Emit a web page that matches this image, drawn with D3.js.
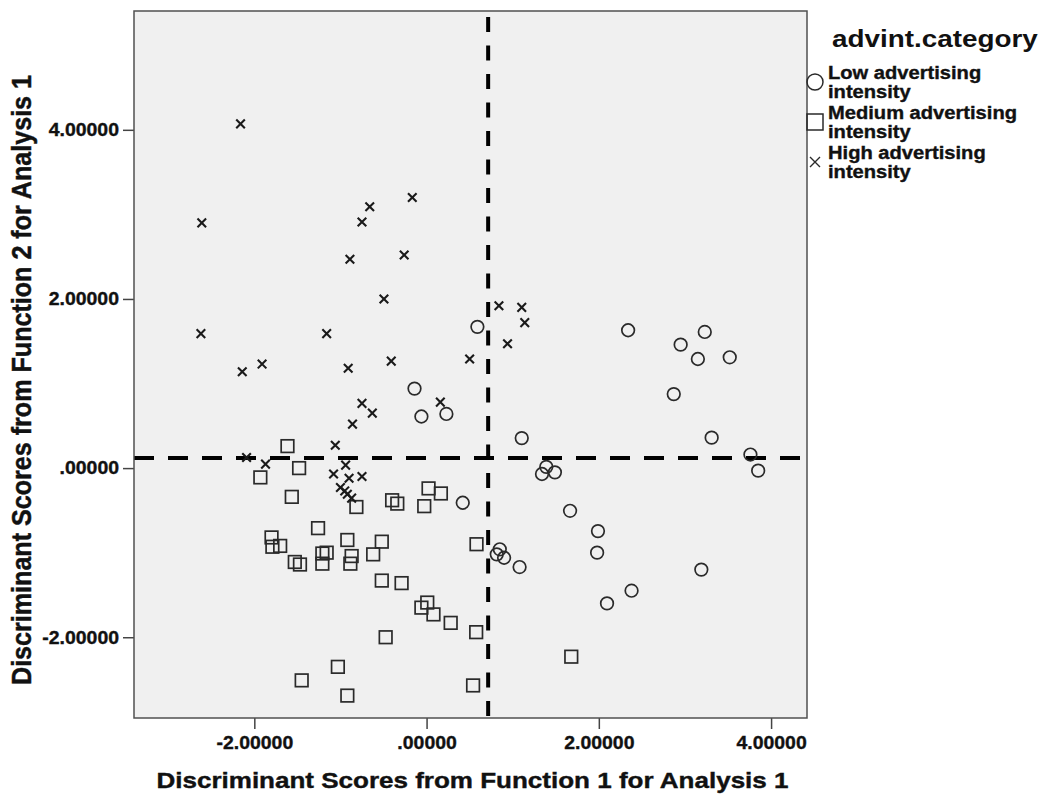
<!DOCTYPE html>
<html>
<head>
<meta charset="utf-8">
<script src="https://cdn.jsdelivr.net/npm/d3@7"></script>
<style>
body { margin: 0; background: #fff; }
svg { display: block; font-family: 'Liberation Sans', Arial, sans-serif; }
</style>
</head>
<body>
<svg></svg>
<script>
// advint.category groups, [function 1 score, function 2 score]
const categories = ['Low advertising intensity', 'Medium advertising intensity', 'High advertising intensity'];

const lowPoints = [
    [0.59, 1.67], [-0.14, 0.94], [-0.06, 0.61], [0.23, 0.64], [0.42, -0.41],
    [1.105, 0.355], [2.34, 1.63], [2.95, 1.46], [3.23, 1.61], [3.15, 1.29],
    [3.52, 1.31], [2.87, 0.875], [3.31, 0.36], [3.76, 0.16], [3.85, -0.03],
    [1.39, 0.015], [1.34, -0.07], [1.49, -0.05], [1.666, -0.505], [1.99, -0.745],
    [1.98, -1.00], [3.19, -1.20], [1.08, -1.17], [2.38, -1.45], [2.095, -1.60],
    [0.85, -0.96], [0.815, -1.02], [0.90, -1.06]
];

const mediumPoints = [
    [-1.615, 0.26], [-1.48, 0.00], [-1.93, -0.11], [-1.565, -0.34], [-0.815, -0.46],
    [-0.40, -0.38], [-0.34, -0.42], [0.023, -0.24], [0.166, -0.30], [-0.027, -0.45],
    [-1.26, -0.71], [-1.80, -0.82], [-1.79, -0.93], [-1.70, -0.92], [-0.92, -0.85],
    [-0.52, -0.87], [-1.53, -1.11], [-1.47, -1.14], [-1.21, -1.01], [-1.16, -1.00],
    [-1.21, -1.13], [-0.87, -1.04], [-0.885, -1.13], [-0.62, -1.02], [0.58, -0.90],
    [-0.52, -1.33], [-0.29, -1.36], [0.008, -1.59], [-0.06, -1.65], [0.08, -1.73],
    [0.28, -1.83], [0.576, -1.94], [-0.475, -2.00], [1.68, -2.23], [-1.03, -2.35],
    [-1.45, -2.51], [-0.92, -2.69], [0.54, -2.57]
];

const highPoints = [
    [-2.16, 4.07], [-2.61, 2.90], [-0.66, 3.09], [-0.166, 3.20], [-0.75, 2.91],
    [-0.89, 2.47], [-0.26, 2.52], [-0.495, 2.00], [-2.62, 1.59], [-1.16, 1.59],
    [0.84, 1.92], [1.105, 1.90], [1.14, 1.72], [0.94, 1.47], [-2.14, 1.14],
    [-1.91, 1.23], [-0.91, 1.18], [-0.41, 1.265], [0.50, 1.29], [-0.75, 0.765],
    [-0.63, 0.65], [0.16, 0.78], [-0.86, 0.52], [-1.06, 0.27], [-2.09, 0.126],
    [-1.87, 0.047], [-0.94, 0.035], [-1.08, -0.07], [-0.90, -0.12], [-0.75, -0.10],
    [-1.00, -0.23], [-0.95, -0.27], [-0.92, -0.31], [-0.87, -0.355]
];

const xTicks = [-2, 0, 2, 4];
const yTicks = [-2, 0, 2, 4];

// reference lines
const cutX = 0.715;
const cutY = 0.12;

const width = 1044;
const height = 794;
const plot = { left: 134, right: 807, top: 11, bottom: 718 };
const ink = '#2a2a2a';

const svg = d3.select('svg')
    .attr('width', width)
    .attr('height', height);

const xScale = d3.scaleLinear()
    .domain([-3.397, 4.417])
    .range([plot.left, plot.right]);

const yScale = d3.scaleLinear()
    .domain([-2.955, 5.405])
    .range([plot.bottom, plot.top]);

const fmt = d => (d < 0 ? '-' : '') + Math.abs(d).toFixed(5).replace(/^0\./, '.');

// widen text a bit, the source picture is stretched sideways
const stretch = (sel, k) => sel.each(function () {
    const len = this.getComputedTextLength();
    d3.select(this).attr('textLength', len * k).attr('lengthAdjust', 'spacingAndGlyphs');
});

// heavier bold, closer to the original rendering
const heavy = (sel, w) => sel.attr('stroke', '#111').attr('stroke-width', w);

svg.append('rect')
    .attr('x', plot.left)
    .attr('y', plot.top)
    .attr('width', plot.right - plot.left)
    .attr('height', plot.bottom - plot.top)
    .attr('fill', '#f0f0f0');

// axes
const xAxis = svg.append('g')
    .attr('transform', `translate(0,${plot.bottom})`)
    .call(d3.axisBottom(xScale).tickValues(xTicks).tickFormat(fmt).tickSize(11).tickSizeOuter(0).tickPadding(7));

const yAxis = svg.append('g')
    .attr('transform', `translate(${plot.left},0)`)
    .call(d3.axisLeft(yScale).tickValues(yTicks).tickFormat(fmt).tickSize(11).tickSizeOuter(0).tickPadding(4));

[xAxis, yAxis].forEach(g => {
    g.select('.domain').remove();
    g.selectAll('.tick line').attr('stroke', '#444').attr('stroke-width', 1.5);
    g.selectAll('.tick text')
        .attr('fill', '#111')
        .style('font-size', '18px')
        .style('font-weight', 'bold')
        .style('font-family', "'Liberation Sans', Arial, sans-serif")
        .call(heavy, 0.35)
        .call(stretch, 1.08);
});

// reference dashed lines
svg.append('line')
    .attr('x1', plot.left).attr('x2', plot.right)
    .attr('y1', yScale(cutY)).attr('y2', yScale(cutY))
    .attr('stroke', '#000')
    .attr('stroke-width', 4)
    .attr('stroke-dasharray', '20 14');

svg.append('line')
    .attr('x1', xScale(cutX)).attr('x2', xScale(cutX))
    .attr('y1', plot.top + 6).attr('y2', plot.bottom)
    .attr('stroke', '#000')
    .attr('stroke-width', 4)
    .attr('stroke-dasharray', '15 13.5');

// frame
svg.append('rect')
    .attr('x', plot.left)
    .attr('y', plot.top)
    .attr('width', plot.right - plot.left)
    .attr('height', plot.bottom - plot.top)
    .attr('fill', 'none')
    .attr('stroke', '#505050')
    .attr('stroke-width', 1.5);

// markers
svg.append('g').selectAll('circle')
    .data(lowPoints)
    .enter()
    .append('circle')
    .attr('cx', d => xScale(d[0]))
    .attr('cy', d => yScale(d[1]))
    .attr('r', 6.3)
    .attr('fill', 'none')
    .attr('stroke', ink)
    .attr('stroke-width', 1.7);

svg.append('g').selectAll('rect')
    .data(mediumPoints)
    .enter()
    .append('rect')
    .attr('x', d => xScale(d[0]) - 6.3)
    .attr('y', d => yScale(d[1]) - 6.3)
    .attr('width', 12.6)
    .attr('height', 12.6)
    .attr('fill', 'none')
    .attr('stroke', ink)
    .attr('stroke-width', 1.7);

svg.append('g').selectAll('path')
    .data(highPoints)
    .enter()
    .append('path')
    .attr('transform', d => `translate(${xScale(d[0])},${yScale(d[1])})`)
    .attr('d', 'M-4.3,-4.3L4.3,4.3M-4.3,4.3L4.3,-4.3')
    .attr('fill', 'none')
    .attr('stroke', '#1a1a1a')
    .attr('stroke-width', 2.1);

// axis titles
svg.append('text')
    .attr('x', (plot.left + plot.right) / 2 + 2)
    .attr('y', 788)
    .attr('text-anchor', 'middle')
    .attr('fill', '#111')
    .style('font-size', '22.5px')
    .style('font-weight', 'bold')
    .attr('textLength', 632)
    .attr('lengthAdjust', 'spacingAndGlyphs')
    .call(heavy, 0.4)
    .text('Discriminant Scores from Function 1 for Analysis 1');

svg.append('text')
    .attr('transform', 'translate(31,380) scale(1.12,1) rotate(-90)')
    .attr('text-anchor', 'middle')
    .attr('fill', '#111')
    .style('font-size', '24.5px')
    .style('font-weight', 'bold')
    .attr('textLength', 610)
    .attr('lengthAdjust', 'spacingAndGlyphs')
    .call(heavy, 0.4)
    .text('Discriminant Scores from Function 2 for Analysis 1');

// legend
const legend = svg.append('g');

legend.append('text')
    .attr('x', 832)
    .attr('y', 47)
    .attr('fill', '#111')
    .style('font-size', '24px')
    .style('font-weight', 'bold')
    .text('advint.category')
    .call(stretch, 1.16);

const legendRows = [82, 122, 162];

categories.forEach((name, i) => {
    const cy = legendRows[i];
    const words = name.split(' ');
    const lines = [words.slice(0, 2).join(' '), words.slice(2).join(' ')];

    if (i === 0) {
        legend.append('circle')
            .attr('cx', 815).attr('cy', cy).attr('r', 8)
            .attr('fill', 'none').attr('stroke', ink).attr('stroke-width', 1.5);
    } else if (i === 1) {
        legend.append('rect')
            .attr('x', 807).attr('y', cy - 8).attr('width', 16).attr('height', 16)
            .attr('fill', 'none').attr('stroke', ink).attr('stroke-width', 1.5);
    } else {
        legend.append('path')
            .attr('transform', `translate(815,${cy})`)
            .attr('d', 'M-5,-5L5,5M-5,5L5,-5')
            .attr('fill', 'none').attr('stroke', ink).attr('stroke-width', 1.4);
    }

    lines.forEach((line, j) => {
        legend.append('text')
            .attr('x', 828)
            .attr('y', cy - 3 + j * 19)
            .attr('fill', '#111')
            .style('font-size', '17.5px')
            .style('font-weight', 'bold')
            .text(line)
            .call(heavy, 0.35)
            .call(stretch, 1.15);
    });
});
</script>
</body>
</html>
